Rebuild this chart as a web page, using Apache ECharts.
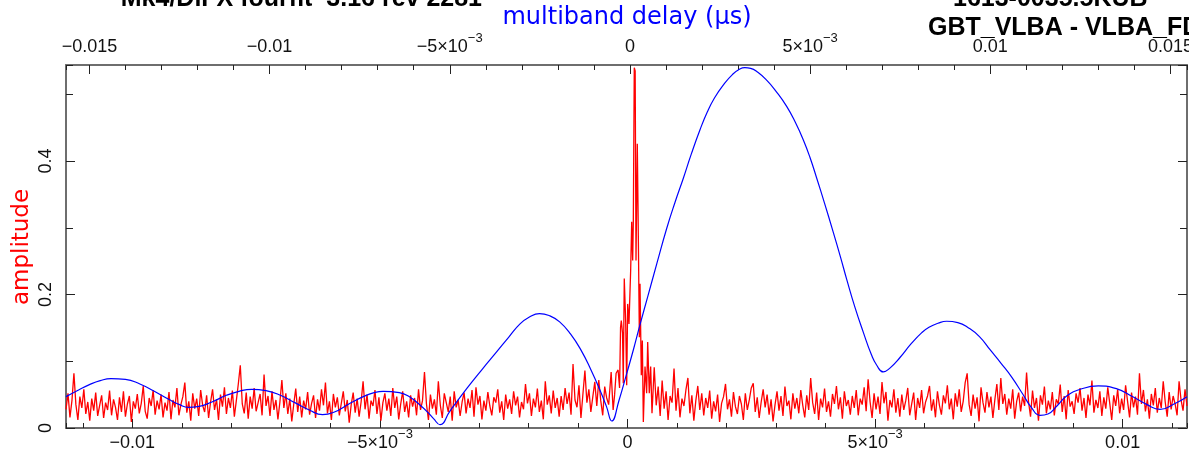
<!DOCTYPE html>
<html><head><meta charset="utf-8">
<script src="https://cdn.jsdelivr.net/npm/echarts@6/dist/echarts.min.js"></script>
<style>html,body{margin:0;padding:0;background:#fff;overflow:hidden}#c{width:1189px;height:455px}</style>
</head><body><div id="c"></div>
<script>
// ---- singleband delay (µs), red: evenly sampled noise left/right of the peak + explicit peak samples
const sbdMin = -0.01134, sbdMax = 0.0113;
const sbdStep = 0.00004;
const sbdLeftStart = -0.01134;
const sbdAmpLeft = [
0.028,0.052,0.016,0.041,0.082,0.035,0.012,0.047,0.030,0.058,0.021,0.039,0.011,0.044,0.026,0.053,0.018,0.034,0.049,0.015,0.038,0.027,0.056,0.019,0.043,
0.031,0.012,0.046,0.024,0.055,0.017,0.036,0.048,0.009,0.040,0.029,0.051,0.022,0.037,0.063,0.025,0.014,0.045,0.033,0.057,0.020,0.041,0.028,0.050,0.016,
0.038,0.026,0.054,0.013,0.042,0.031,0.060,0.019,0.035,0.047,0.068,0.023,0.040,0.011,0.052,0.029,0.044,0.018,0.057,0.034,0.024,0.049,0.015,0.039,0.058,
0.027,0.043,0.012,0.050,0.032,0.061,0.021,0.045,0.030,0.056,0.017,0.041,0.066,0.094,0.036,0.022,0.053,0.014,0.047,0.029,0.060,0.025,0.038,0.051,0.019,
0.080,0.033,0.048,0.018,0.055,0.027,0.042,0.013,0.039,0.072,0.030,0.052,0.021,0.044,0.010,0.036,0.059,0.024,0.047,0.016,0.041,0.028,0.054,0.020,0.037,
0.049,0.015,0.043,0.026,0.058,0.034,0.068,0.022,0.040,0.012,0.051,0.031,0.046,0.019,0.037,0.055,0.025,0.042,0.008,0.035,0.053,0.023,0.044,0.017,0.039,
0.070,0.028,0.050,0.014,0.041,0.033,0.057,0.021,0.046,0.011,0.038,0.052,0.026,0.044,0.018,0.060,0.030,0.047,0.013,0.036,0.055,0.024,0.040,0.016,0.049,
0.032,0.045,0.019,0.058,0.027,0.041,0.084,0.036,0.012,0.050,0.029,0.043,0.020,0.070,0.034,0.015,0.052,0.038,0.024,0.047,0.011,0.055,0.031,0.042,0.018,
0.039,0.053,0.022,0.044,0.030,0.057,0.017,0.061,0.035,0.048,0.013,0.041,0.026,0.054,0.033,0.019,0.046,0.038,0.058,0.023,0.040,0.012,0.050,0.029,0.043,
0.021,0.055,0.034,0.047,0.016,0.039,0.028,0.066,0.037,0.052,0.018,0.044,0.031,0.059,0.024,0.041,0.013,0.070,0.035,0.049,0.022,0.056,0.030,0.045,0.017,
0.048,0.027,0.060,0.036,0.053,0.020,0.096,0.042,0.031,0.064,0.015,0.051,0.086,0.038,0.058,0.024,0.047,0.069,0.033,0.072,0.041,0.019,0.062,0.045,0.035
];
const peakDelay = [-0.00033,-0.00029,-0.00026,-0.00023,-0.00019,-0.00016,-0.00014,-0.000125,-0.00010,-0.000085,
-0.000065,-0.000037,-0.000016,0.000004,0.00003,0.000064,0.000085,0.000105,0.000118,0.000137,
0.000155,0.000172,0.000198,0.000212,0.000232,0.00024,0.000253,0.000279,0.0003,0.00032,
0.000354,0.000387,0.000408,0.00044,0.000468,0.000495];
const peakAmp = [0.084,0.027,0.050,0.082,0.087,0.060,0.151,0.161,0.142,0.067,
0.224,0.161,0.064,0.186,0.156,0.236,0.309,0.251,0.311,0.540,
0.535,0.251,0.426,0.336,0.338,0.136,0.216,0.079,0.131,0.009,
0.092,0.052,0.129,0.052,0.092,0.022];
const sbdRightStart = 0.00054;
const sbdAmpRight = [
0.091,0.034,0.062,0.018,0.071,0.029,0.055,0.012,0.048,0.038,0.089,0.026,0.060,0.016,0.044,0.033,0.057,0.075,0.022,0.049,0.011,0.041,0.063,0.027,0.052,
0.019,0.045,0.030,0.056,0.014,0.040,0.025,0.050,0.009,0.037,0.047,0.066,0.028,0.043,0.017,0.054,0.032,0.021,0.048,0.036,0.012,0.052,0.027,0.042,0.060,
0.067,0.024,0.046,0.015,0.039,0.058,0.031,0.050,0.020,0.043,0.010,0.035,0.055,0.026,0.048,0.018,0.062,0.033,0.041,0.013,0.052,0.029,0.045,0.022,0.057,
0.034,0.016,0.049,0.027,0.075,0.038,0.021,0.053,0.012,0.044,0.031,0.059,0.024,0.040,0.017,0.051,0.036,0.063,0.028,0.046,0.014,0.055,0.033,0.042,0.020,
0.048,0.030,0.057,0.019,0.044,0.035,0.061,0.025,0.073,0.039,0.015,0.052,0.028,0.047,0.021,0.069,0.037,0.054,0.011,0.042,0.031,0.058,0.023,0.045,0.017,
0.050,0.027,0.041,0.060,0.019,0.036,0.053,0.012,0.045,0.030,0.057,0.022,0.039,0.048,0.063,0.026,0.043,0.016,0.055,0.034,0.020,0.049,0.037,0.064,0.028,
0.044,0.013,0.052,0.032,0.058,0.024,0.040,0.068,0.082,0.035,0.018,0.050,0.029,0.046,0.010,0.061,0.038,0.023,0.054,0.031,0.047,0.015,0.043,0.066,0.027,
0.075,0.036,0.051,0.020,0.044,0.029,0.058,0.014,0.040,0.053,0.025,0.047,0.033,0.083,0.039,0.017,0.056,0.030,0.045,0.011,0.049,0.035,0.062,0.022,0.041,
0.028,0.054,0.019,0.043,0.036,0.065,0.024,0.048,0.013,0.057,0.032,0.040,0.021,0.052,0.038,0.060,0.026,0.045,0.015,0.050,0.034,0.071,0.023,0.042,0.030,
0.055,0.018,0.046,0.029,0.061,0.037,0.012,0.049,0.033,0.058,0.022,0.044,0.027,0.064,0.040,0.016,0.053,0.031,0.047,0.020,0.082,0.036,0.057,0.025,0.043,
0.014,0.051,0.034,0.060,0.023,0.045,0.030,0.070,0.039,0.017,0.054,0.028,0.048,0.036,0.019,0.070,0.042,0.026,0.058,0.033
];

// ---- multiband delay (µs), blue
const mbdMin = -0.01565, mbdMax = 0.01546;
const mbdDelay = [-0.01565,-0.0153,-0.0150,-0.0147,-0.0144,-0.0140,-0.0136,-0.0132,-0.0128,-0.0125,
-0.01225,-0.0120,-0.0116,-0.0112,-0.01085,-0.0105,-0.0101,-0.0097,-0.0093,-0.0089,
-0.00853,-0.0082,-0.0078,-0.0074,-0.0071,-0.00685,-0.0064,-0.0061,-0.00582,-0.0056,
-0.00545,-0.00527,-0.0050,-0.00453,-0.0041,-0.0037,-0.00335,-0.00305,-0.0028,-0.00251,
-0.00222,-0.00195,-0.00165,-0.00135,-0.00108,-0.00083,-0.00065,-0.000505,-0.0003,-0.00009,
0.0001,0.00028,0.0005,0.00075,0.00102,0.00125,0.00148,0.0017,0.001945,0.00215,
0.00235,0.00259,0.00285,0.00305,0.00319,0.00335,0.00355,0.0038,0.00405,0.00435,
0.0046,0.00481,0.0050,0.00518,0.0054,0.00564,0.00585,0.00602,0.00625,0.00648,
0.0067,0.00685,0.00703,0.0072,0.0075,0.0078,0.0081,0.0083,0.00855,0.00879,
0.0091,0.0094,0.0097,0.0100,0.0103,0.0106,0.0109,0.01115,0.01138,0.0116,
0.01185,0.01212,0.0125,0.0130,0.0135,0.01397,0.01435,0.01471,0.0151,0.01546];
const mbdAmp = [0.047,0.057,0.065,0.071,0.074,0.073,0.066,0.055,0.043,0.035,
0.031,0.032,0.039,0.049,0.055,0.058,0.056,0.049,0.038,0.027,
0.020,0.024,0.036,0.047,0.053,0.055,0.053,0.046,0.034,0.023,
0.014,0.005,0.025,0.059,0.088,0.114,0.137,0.156,0.166,0.1715,
0.168,0.159,0.141,0.116,0.087,0.0565,0.032,0.0105,0.042,0.0815,
0.118,0.155,0.198,0.247,0.299,0.338,0.374,0.410,0.447,0.474,
0.495,0.514,0.530,0.538,0.540,0.539,0.533,0.521,0.505,0.482,
0.457,0.432,0.405,0.375,0.337,0.294,0.255,0.222,0.180,0.143,
0.110,0.094,0.084,0.089,0.106,0.126,0.143,0.151,0.157,0.160,
0.158,0.150,0.137,0.117,0.097,0.076,0.051,0.030,0.019,0.021,
0.033,0.048,0.058,0.063,0.059,0.0465,0.035,0.028,0.036,0.047];

// ---- amplitude axis
const ampMin = 0, ampMax = 0.544;
const ampTickLabels = {'0':'0','0.2':'0.2','0.4':'0.4'};
// tick labels: [mantissa part, superscript part]
const delayTickLabels = {'0':['0',''],'0.005':['5×10','−3'],'0.01':['0.01',''],'0.015':['0.015','']};

const titleLeft = 'Mk4/DiFX fourfit  3.16 rev 2281';
const titleRight1 = '1613-0035.5KUB';
const titleRight2 = 'GBT_VLBA - VLBA_FD';
const mbdName = 'multiband delay (µs)';
const sbdName = 'singleband delay (µs)';
const ampName = 'amplitude';

// build red series
const redData = [];
sbdAmpLeft.forEach((a, i) => redData.push([sbdLeftStart + i * sbdStep, a]));
peakDelay.forEach((d, i) => redData.push([d, peakAmp[i]]));
sbdAmpRight.forEach((a, j) => redData.push([sbdRightStart + j * sbdStep, a]));
const blueData = mbdDelay.map((d, i) => [d, mbdAmp[i]]);

const FONT = 'Liberation Sans';
const FRAME = '#6e6e6e';
function fmtDelay(v) {
  const a = Math.abs(v);
  for (const k in delayTickLabels) {
    if (Math.abs(a - parseFloat(k)) < 1e-9) {
      const p = delayTickLabels[k];
      const s = (v < 0 && a > 1e-9 ? '−' : '') + p[0];
      return '{n|' + s + '}' + (p[1] ? '{s|' + p[1] + '}' : '');
    }
  }
  return '';
}
function fmtAmp(v) {
  for (const k in ampTickLabels) if (Math.abs(v - parseFloat(k)) < 1e-9) return ampTickLabels[k];
  return '';
}
const richLbl = {
  n: { fontFamily: FONT, fontSize: 18, lineHeight: 30, color: '#111' },
  s: { fontFamily: FONT, fontSize: 13, lineHeight: 13, verticalAlign: 'top', color: '#111' }
};
function xAx(pos, min, max, step, major) {
  return {
    type: 'value', position: pos, min: min, max: max,
    minInterval: step, maxInterval: step, splitNumber: 5,
    splitLine: { show: false },
    axisLine: { show: major, onZero: false, lineStyle: { color: FRAME, width: 2 } },
    axisTick: { show: true, inside: true, length: major ? 9 : 5, lineStyle: { color: '#222', width: 1 } },
    axisLabel: major ? { show: true, formatter: fmtDelay, margin: pos === 'top' ? 3 : 0, color: '#111',
      fontFamily: FONT, fontSize: 18, rich: richLbl, showMinLabel: false, showMaxLabel: false } : { show: false }
  };
}
function yAx(pos, step, major, labels) {
  return {
    type: 'value', position: pos, min: ampMin, max: ampMax, interval: step,
    splitLine: { show: false },
    axisLine: { show: major, onZero: false, lineStyle: { color: FRAME, width: 2 } },
    axisTick: { show: true, inside: true, length: major ? 9 : 7, lineStyle: { color: '#222', width: 1 } },
    axisLabel: labels ? { show: true, rotate: 90, formatter: fmtAmp, margin: 11, color: '#111',
      fontFamily: FONT, fontSize: 18, showMaxLabel: false } : { show: false }
  };
}

const chart = echarts.init(document.getElementById('c'), null, { renderer: 'canvas' });
chart.setOption({
  animation: false,
  backgroundColor: '#ffffff',
  grid: { left: 66, right: 2, top: 65, bottom: 27, containLabel: false, outerBoundsMode: 'none' },
  xAxis: [
    xAx('bottom', sbdMin, sbdMax, 0.005, true),
    xAx('bottom', sbdMin, sbdMax, 0.001, false),
    xAx('top', mbdMin, mbdMax, 0.005, true),
    xAx('top', mbdMin, mbdMax, 0.001, false)
  ],
  yAxis: [
    yAx('left', 0.2, true, true),
    yAx('left', 0.1, false, false),
    yAx('right', 0.2, true, false),
    yAx('right', 0.1, false, false)
  ],
  series: [
    { type: 'line', name: 'sbd', xAxisIndex: 0, yAxisIndex: 0, data: redData, showSymbol: false, symbol: 'none',
      lineStyle: { color: '#ff0000', width: 1.3 }, itemStyle: { color: '#ff0000' }, z: 2 },
    { type: 'line', name: 'mbd', xAxisIndex: 2, yAxisIndex: 0, data: blueData, showSymbol: false, symbol: 'none',
      smooth: 0.5, lineStyle: { color: '#0000ff', width: 1.2 }, itemStyle: { color: '#0000ff' }, z: 3 }
  ],
  graphic: [
    { type: 'text', x: 482, y: -1, style: { text: titleLeft, font: 'bold 25px "Liberation Sans"', fill: '#000',
      align: 'right', verticalAlign: 'middle', textAlign: 'right', textVerticalAlign: 'middle' } },
    { type: 'text', x: 953, y: -1, style: { text: titleRight1, font: 'bold 25px "Liberation Sans"', fill: '#000',
      align: 'left', verticalAlign: 'middle', textAlign: 'left', textVerticalAlign: 'middle' } },
    { type: 'text', x: 928, y: 28, style: { text: titleRight2, font: 'bold 25px "Liberation Sans"', fill: '#000',
      align: 'left', verticalAlign: 'middle', textAlign: 'left', textVerticalAlign: 'middle' } },
    { type: 'text', x: 627, y: 18, style: { text: mbdName, font: '24px "DejaVu Sans"', fill: '#0000ff',
      align: 'center', verticalAlign: 'middle', textAlign: 'center', textVerticalAlign: 'middle' } },
    { type: 'text', x: 628, y: 458, style: { text: sbdName, font: '24px "DejaVu Sans"', fill: '#ff0000',
      align: 'center', verticalAlign: 'top', textAlign: 'center', textVerticalAlign: 'top' } },
    { type: 'text', x: 22, y: 247, rotation: Math.PI / 2, style: { text: ampName, font: '23px "DejaVu Sans"', fill: '#ff0000',
      align: 'center', verticalAlign: 'middle', textAlign: 'center', textVerticalAlign: 'middle' } }
  ]
});
</script>
</body></html>
